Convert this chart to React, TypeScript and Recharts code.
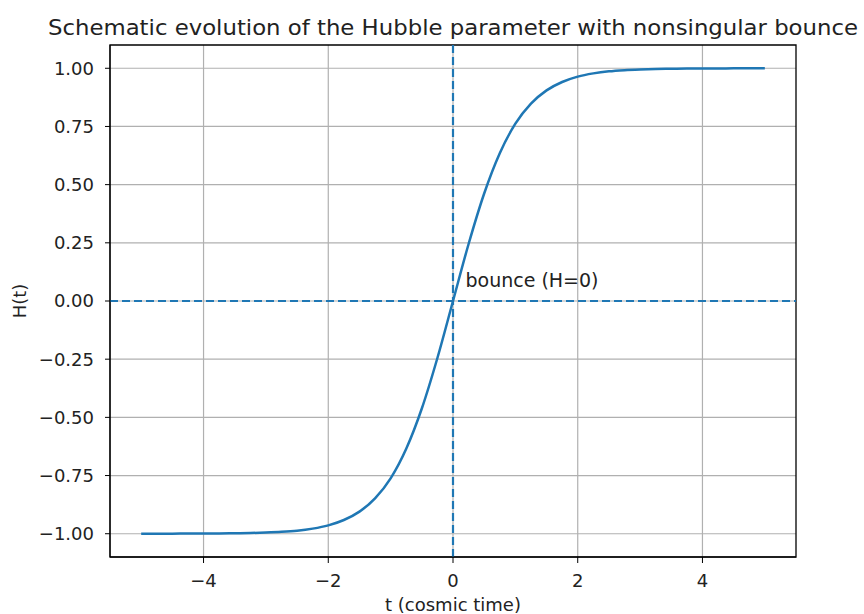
import React from "react"
import {
  LineChart,
  Line,
  XAxis,
  YAxis,
  CartesianGrid,
  ReferenceLine,
  ReferenceDot,
  ReferenceArea,
} from "recharts"

// cosmic time samples and the Hubble parameter
const times = [
  -5, -4.75, -4.5, -4.25, -4, -3.75, -3.5, -3.25, -3, -2.75, -2.5, -2.25, -2, -1.75, -1.5, -1.25, -1,
  -0.75, -0.5, -0.25, 0, 0.25, 0.5, 0.75, 1, 1.25, 1.5, 1.75, 2, 2.25, 2.5, 2.75, 3, 3.25, 3.5, 3.75,
  4, 4.25, 4.5, 4.75, 5,
]
const hubble = [
  -1.0, -1.0, -1.0, -0.999, -0.999, -0.999, -0.998, -0.997, -0.995, -0.992, -0.987, -0.978, -0.964,
  -0.941, -0.905, -0.848, -0.762, -0.635, -0.462, -0.245, 0, 0.245, 0.462, 0.635, 0.762, 0.848, 0.905,
  0.941, 0.964, 0.978, 0.987, 0.992, 0.995, 0.997, 0.998, 0.999, 0.999, 0.999, 1.0, 1.0, 1.0,
]
const xTicks = [-4, -2, 0, 2, 4]
const yTicks = [-1, -0.75, -0.5, -0.25, 0, 0.25, 0.5, 0.75, 1]

const data = times.map((t, i) => ({ t, H: hubble[i] }))

const BLUE = "#1f77b4"
const FONT = "DejaVu Sans, sans-serif"
const FS = 18

const fmtY = (v: number) => (v < 0 ? "\u2212" + Math.abs(v).toFixed(2) : v.toFixed(2))
const fmtX = (v: number) => (v < 0 ? "\u2212" + Math.abs(v) : String(v))

export default function App() {
  return (
    <div style={{ position: "fixed", left: 0, top: 0, width: 864, height: 614, background: "#fff", overflow: "hidden" }}>
      <LineChart
        width={864}
        height={614}
        data={data}
        margin={{ top: 45, right: 68, bottom: 17, left: 50 }}
        style={{ fontFamily: FONT }}
      >
        <CartesianGrid stroke="#b0b0b0" strokeWidth={1.2} horizontalValues={yTicks} verticalValues={xTicks} />
        <XAxis
          dataKey="t"
          type="number"
          domain={[-5.5, 5.5]}
          ticks={xTicks}
          tickFormatter={fmtX}
          allowDataOverflow
          height={40}
          tickSize={6}
          tickMargin={11}
          stroke="#000"
          tick={{ fill: "#222", fontSize: FS, fontFamily: FONT }}
        />
        <YAxis
          type="number"
          domain={[-1.1, 1.1]}
          ticks={yTicks}
          tickFormatter={fmtY}
          allowDataOverflow
          width={60}
          tickSize={5}
          tickMargin={11}
          stroke="#000"
          tick={{ fill: "#222", fontSize: FS, fontFamily: FONT }}
        />
        <ReferenceLine x={0} stroke={BLUE} strokeWidth={2.2} strokeDasharray="8 4" />
        <ReferenceLine y={0} stroke={BLUE} strokeWidth={2.2} strokeDasharray="8 4" />
        <Line
          type="monotone"
          dataKey="H"
          stroke={BLUE}
          strokeWidth={2.5}
          dot={false}
          isAnimationActive={false}
        />
        <ReferenceArea x1={-5.5} x2={5.5} y1={-1.1} y2={1.1} fill="none" stroke="#000" strokeWidth={1.3} ifOverflow="visible" />
        <ReferenceDot
          x={0.2}
          y={0.05}
          r={0}
          shape={(p: any) => (
            <text x={p.cx} y={p.cy - 2} fontFamily={FONT} fontSize={19} fill="#222">
              bounce (H=0)
            </text>
          )}
        />
      </LineChart>
      <svg width={864} height={614} style={{ position: "absolute", left: 0, top: 0, pointerEvents: "none" }}>
        <text
          x={453}
          y={35}
          textAnchor="middle"
          fontFamily={FONT}
          fontSize={22}
          fill="#222"
          textLength={810}
          lengthAdjust="spacingAndGlyphs"
        >
          Schematic evolution of the Hubble parameter with nonsingular bounce
        </text>
        <text x={453} y={611} textAnchor="middle" fontFamily={FONT} fontSize={FS} fill="#222">
          t (cosmic time)
        </text>
        <text
          x={0}
          y={0}
          transform="translate(26 301) rotate(-90)"
          textAnchor="middle"
          fontFamily={FONT}
          fontSize={FS}
          fill="#222"
        >
          H(t)
        </text>
      </svg>
    </div>
  )
}
